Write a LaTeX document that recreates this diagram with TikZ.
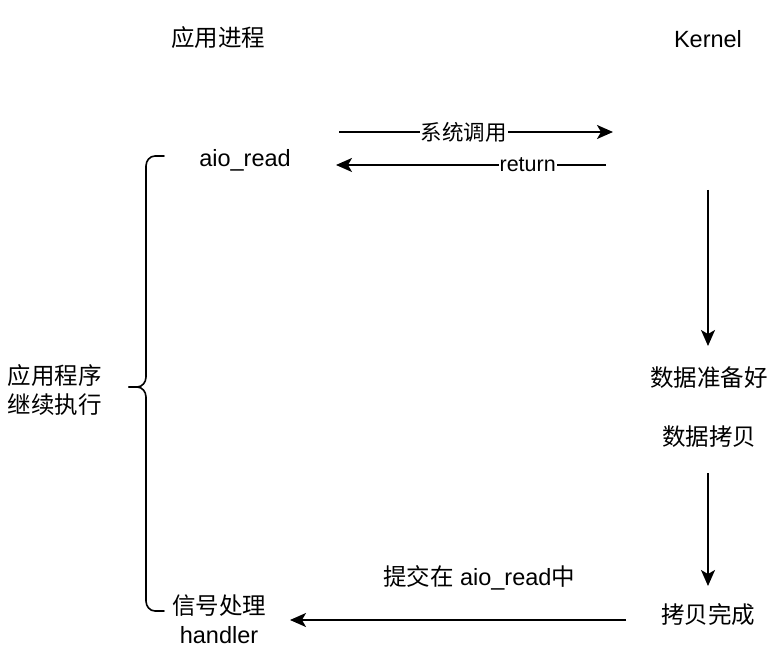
\documentclass[tikz,border=0pt]{standalone}
\usepackage{fontspec}
\setmainfont{Liberation Sans}
\newfontfamily\cjk{Noto Sans CJK SC}
\usetikzlibrary{arrows.meta}
\tikzset{
  txt/.style={inner sep=0pt, font=\fontsize{23.5}{29}\selectfont, align=center},
  lbl/.style={inner sep=1pt, fill=white, font=\fontsize{21.5}{26}\selectfont},
  arr/.style={line width=1.6pt, -{Stealth[length=16pt,width=14pt,inset=4pt]}},
  bracestyle/.style={line width=1.6pt, line cap=round}
}
\begin{document}
\begin{tikzpicture}[x=1pt,y=-1pt]
\useasboundingbox (0,0) rectangle (780,658);
% titles
\node[txt] (app) at (218,38) {\cjk 应用进程};
\node[txt] (kern) at (708,39) {Kernel};
% nodes
\node[txt] (aio) at (245,160) {aio\_read};
\node[txt] (ready) at (709,378) {\cjk 数据准备好};
\node[txt] (copy) at (709,437) {\cjk 数据拷贝};
\node[txt] (done) at (708,615) {\cjk 拷贝完成};
\node[txt] (handler) at (219,619) {{\cjk 信号处理}\\handler};
\node[txt] (cont) at (55,390) {\cjk 应用程序\\\cjk 继续执行};
% coordinates for connector ends
\coordinate (s1) at (339,132);
\coordinate (e1) at (613,132);
\coordinate (s2) at (606,165);
\coordinate (e2) at (336,165);
\coordinate (v1s) at (708,190);
\coordinate (v1e) at (708,346);
\coordinate (v2s) at (708,473);
\coordinate (v2e) at (708,586);
\coordinate (bs) at (626,620);
\coordinate (be) at (290,620);
% connectors
\draw[arr] (s1) -- (e1) node[lbl, pos=0.456] (l1) {\cjk 系统调用};
\draw[arr] (s2) -- (e2) node[lbl, pos=0.29] (l2) {return};
\draw[arr] (v1s) -- (v1e);
\draw[arr] (v2s) -- (v2e);
\draw[arr] (bs) -- (be);
\node[txt] (submit) at (479,578) {{\cjk 提交在} aio\_read{\cjk 中}};
% brace
\draw[bracestyle] (164,156) -- (155,156) to[out=180,in=90] (146,166) -- (146,377)
  to[out=-90,in=0] (137,387) -- (129,387);
\draw[bracestyle] (129,387) -- (137,387) to[out=0,in=90] (146,397) -- (146,601)
  to[out=-90,in=180] (155,611) -- (164,611);
\end{tikzpicture}
\end{document}
